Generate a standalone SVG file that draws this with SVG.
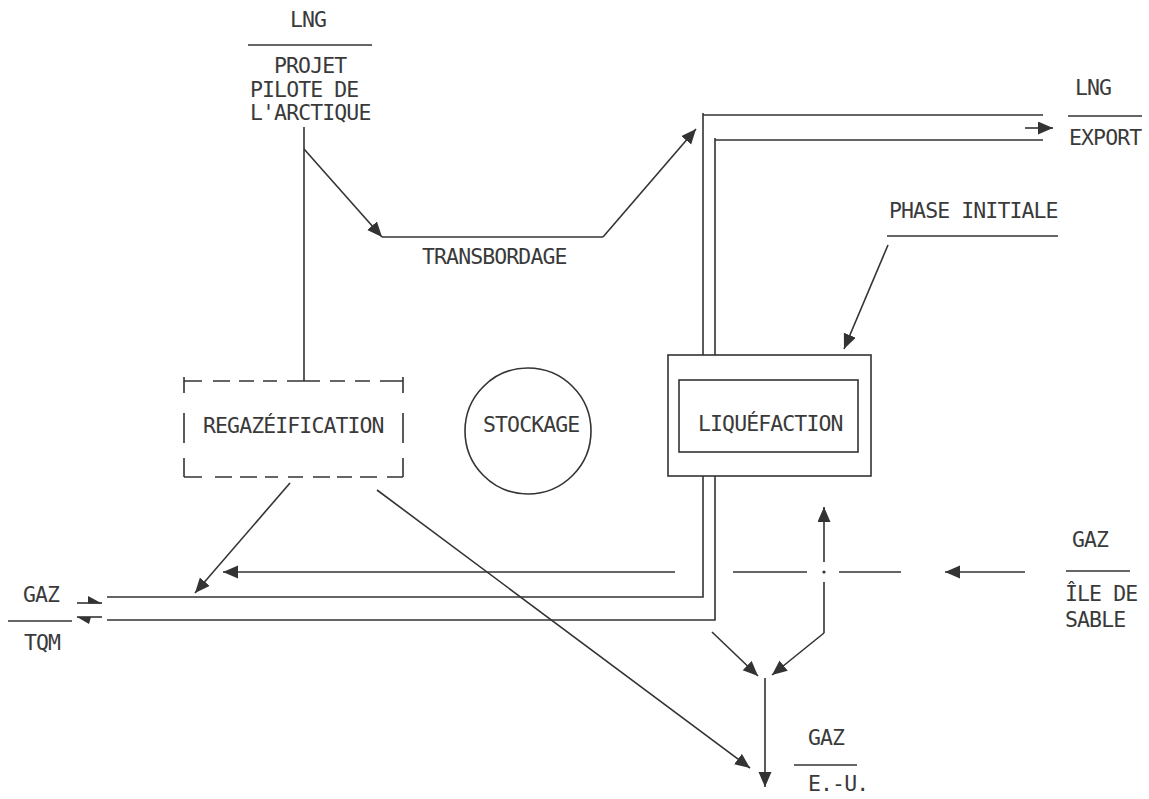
<svg xmlns="http://www.w3.org/2000/svg" width="1149" height="799" viewBox="0 0 1149 799">
<style>
text{font-family:"DejaVu Sans Mono","Liberation Mono",monospace;font-size:21.5px;letter-spacing:-0.9px;fill:#3a3a3a}
.ln{stroke:#333;stroke-width:1.6;fill:none}
.ar{stroke:#333;stroke-width:1.6;fill:none;marker-end:url(#ah)}
</style>
<defs>
<marker id="ah" markerUnits="userSpaceOnUse" markerWidth="18" markerHeight="16" refX="15" refY="6.5" orient="auto">
<path d="M0,0 L15,6.5 L0,13 Z" fill="#333"/>
</marker>
</defs>
<rect width="1149" height="799" fill="#fff"/>

<g id="label-arctique">
<text x="290" y="27">LNG</text>
<line class="ln" x1="248" y1="45" x2="372" y2="45"/>
<text x="274" y="73">PROJET</text>
<text x="250" y="97">PILOTE DE</text>
<text x="250" y="120">L'ARCTIQUE</text>
</g>

<g id="label-transbordage">
<text x="422" y="264">TRANSBORDAGE</text>
</g>

<g id="label-export">
<text x="1075" y="95">LNG</text>
<line class="ln" x1="1068" y1="116" x2="1142" y2="116"/>
<text x="1069" y="145">EXPORT</text>
</g>

<g id="label-phase">
<text x="889" y="218">PHASE INITIALE</text>
<line class="ln" x1="887" y1="236" x2="1058" y2="236"/>
</g>

<g id="regazeification">
<g class="ln">
<path d="M184,377 V393 M184,413 V443 M184,458 V477"/>
<path d="M403,377 V393 M403,413 V443 M403,458 V477"/>
<path d="M184,381 H202 M213,381 H230 M239,381 H254 M263,381 H277 M287,381 H320 M330,381 H345 M355,381 H370 M380,381 H403"/>
<path d="M184,477 H202 M215,477 H232 M240,477 H257 M265,477 H278 M288,477 H303 M313,477 H330 M337,477 H352 M360,477 H377 M387,477 H403"/>
</g>
<text x="203" y="433">REGAZÉIFICATION</text>
</g>

<g id="stockage">
<circle class="ln" cx="528" cy="431" r="63"/>
<text x="483" y="432">STOCKAGE</text>
</g>

<g id="liquefaction">
<rect class="ln" x="668" y="355" width="203" height="121"/>
<rect class="ln" x="679" y="380" width="179" height="72"/>
<text x="698" y="431">LIQUÉFACTION</text>
</g>

<g id="label-tqm">
<text x="23" y="602">GAZ</text>
<line class="ln" x1="8" y1="621" x2="72" y2="621"/>
<text x="24" y="650">TQM</text>
</g>

<g id="label-ile">
<text x="1072" y="547">GAZ</text>
<line class="ln" x1="1066" y1="571" x2="1130" y2="571"/>
<text x="1065" y="601">ÎLE DE</text>
<text x="1065" y="627">SABLE</text>
</g>

<g id="label-eu">
<text x="808" y="745">GAZ</text>
<line class="ln" x1="794" y1="765" x2="857" y2="765"/>
<text x="808" y="791">E.-U.</text>
</g>

<g id="connectors">
<line class="ln" x1="304" y1="127" x2="304" y2="381"/>
<line class="ar" x1="304" y1="149" x2="382" y2="237"/>
<line class="ln" x1="382" y1="237" x2="603" y2="237"/>
<line class="ar" x1="603" y1="237" x2="696" y2="129"/>
<path class="ln" d="M703,113 V355 M703,115 H1043"/>
<path class="ln" d="M715,138 V355 M715,140 H1043"/>
<line class="ar" x1="1025" y1="128" x2="1053" y2="128"/>
<line class="ar" x1="888" y1="245" x2="844" y2="349"/>
<path class="ln" d="M703,476 V597 H107"/>
<path class="ln" d="M715,476 V620 H107"/>
<path class="ln" d="M77,603 H102"/>
<path d="M88,596 L102,603.5 L88,603.5 Z" fill="#333"/>
<path class="ln" d="M77,617 H102"/>
<path d="M77,617 L91,617 L89,624 Z" fill="#333"/>
<line class="ar" x1="290" y1="483" x2="195" y2="593"/>
<line class="ar" x1="377" y1="490" x2="750" y2="768"/>
<line class="ar" x1="675" y1="572" x2="223" y2="572"/>
<line class="ln" x1="733" y1="572" x2="807" y2="572"/>
<circle cx="824" cy="572" r="1.6" fill="#333"/>
<line class="ln" x1="839" y1="572" x2="901" y2="572"/>
<line class="ar" x1="1025" y1="572" x2="945" y2="572"/>
<line class="ar" x1="824" y1="562" x2="824" y2="507"/>
<line class="ln" x1="824" y1="582" x2="824" y2="633"/>
<line class="ar" x1="824" y1="633" x2="772" y2="675"/>
<line class="ar" x1="712" y1="632" x2="758" y2="676"/>
<line class="ar" x1="765" y1="678" x2="765" y2="787"/>
</g>
</svg>
